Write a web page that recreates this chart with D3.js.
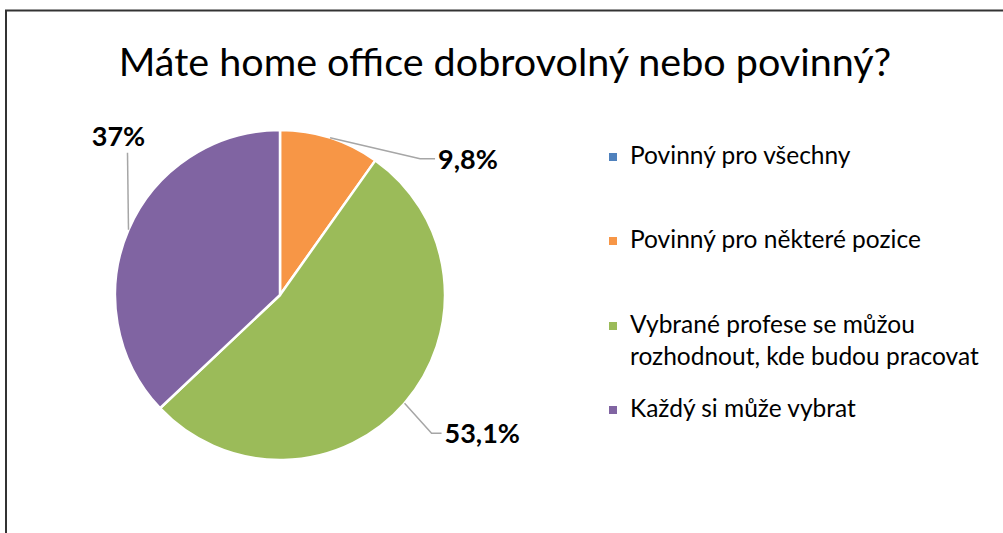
<!DOCTYPE html>
<meta charset='utf-8'>
<style>
	body {
		margin: 0;
		background: #fff;
	}
	text {
		font-family: Lato, 'Open Sans', sans-serif;
		fill: #000;
	}
	.lbl {
		font-weight: bold;
	}
	.leader {
		fill: none;
		stroke: #a6a6a6;
		stroke-width: 1.5px;
	}
</style>
<body>
<script src='https://cdn.jsdelivr.net/npm/d3@7/dist/d3.min.js'></script>

<script type='text/javascript'>
	var title = 'Máte home office dobrovolný nebo povinný?';
	var categories = ['Povinný pro všechny', 'Povinný pro některé pozice',
		'Vybrané profese se můžou rozhodnout, kde budou pracovat', 'Každý si může vybrat'];
	var legendLines = [['Povinný pro všechny'], ['Povinný pro některé pozice'],
		['Vybrané profese se můžou', 'rozhodnout, kde budou pracovat'], ['Každý si může vybrat']];
	var values = [0, 9.8, 53.1, 37];
	var labels = ['', '9,8%', '53,1%', '37%'];
	var colors = ['#4f81bd', '#f79646', '#9bbb59', '#8064a2'];

	var svgW = 1003, svgH = 533;
	var pieC = {x: 280, y: 295}, rad = 165;

	var svg = d3.select('body').append('svg')
		.attr('width', svgW).attr('height', svgH);

	// chart frame (only left and top edges are visible in the crop)
	svg.append('path')
		.attr('d', 'M6,540 L6,10.5 L1010,10.5')
		.attr('fill', 'none').attr('stroke', '#333').attr('stroke-width', 2);

	svg.append('text')
		.attr('x', 505).attr('y', 76)
		.attr('text-anchor', 'middle')
		.attr('font-size', 39.5)
		.text(title);

	var pie = d3.pie().sort(null).value(function (d) { return d; });
	var arcs = pie(values);
	var arc = d3.arc().innerRadius(0).outerRadius(rad);

	var g = svg.append('g').attr('transform', 'translate(' + pieC.x + ',' + pieC.y + ')');

	g.selectAll('path.slice').data(arcs).enter().append('path')
		.attr('class', 'slice')
		.attr('d', arc)
		.attr('fill', function (d, i) { return colors[i]; })
		.attr('stroke', '#fff').attr('stroke-width', 2.5)
		.attr('stroke-linejoin', 'round');

	// leader elbows, relative to the point on the rim at mid angle
	var elbows = [null, {dx: 90, dy: 21, len: 15, side: 1},
		{dx: 27, dy: 30, len: 10, side: 1},
		{dx: -1, dy: -77, len: 0, side: 0}];

	arcs.forEach(function (d, i) {
		if (!labels[i]) return;
		var a = (d.startAngle + d.endAngle) / 2;
		var p0 = [rad * Math.sin(a), -rad * Math.cos(a)];
		var e = elbows[i];
		var p1 = [p0[0] + e.dx, p0[1] + e.dy];
		var p2 = [p1[0] + e.len * e.side, p1[1]];
		g.append('path').attr('class', 'leader')
			.attr('d', d3.line()([p0, p1, p2]));
		var t = g.append('text').attr('class', 'lbl')
			.attr('font-size', 27)
			.text(labels[i]);
		if (e.side === 1) {
			t.attr('x', p2[0] + 3).attr('y', p2[1] + 10);
		} else {
			t.attr('x', p1[0] - 9).attr('y', p1[1] - 7).attr('text-anchor', 'middle');
		}
	});

	// legend
	var legY = [164, 248, 333, 417];
	var leg = svg.append('g').attr('transform', 'translate(609,0)');
	legendLines.forEach(function (lines, i) {
		leg.append('rect')
			.attr('x', 0).attr('y', legY[i] - 11)
			.attr('width', 8).attr('height', 8)
			.attr('fill', colors[i]);
		lines.forEach(function (s, j) {
			leg.append('text')
				.attr('x', 21).attr('y', legY[i] + j * 32)
				.attr('font-size', 24.5)
				.text(s);
		});
	});
</script>
